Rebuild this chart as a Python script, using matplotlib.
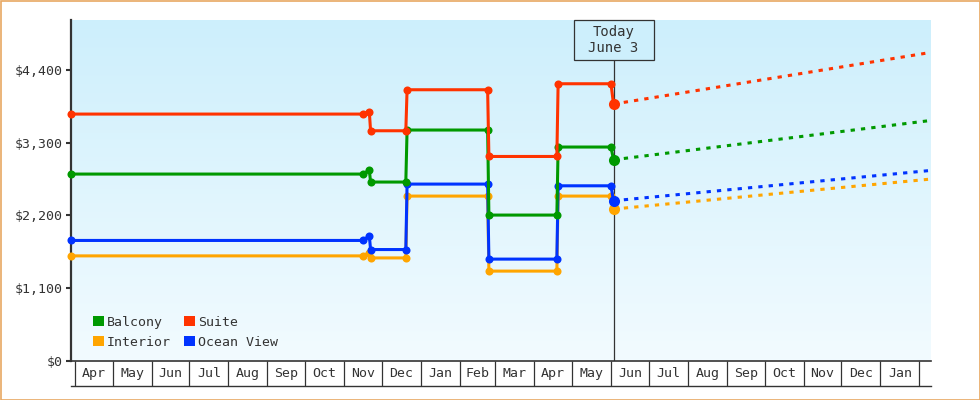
import matplotlib
matplotlib.use("Agg")
import matplotlib.pyplot as plt
import matplotlib.dates as mdates
from matplotlib.colors import LinearSegmentedColormap
from matplotlib.patches import Patch, Rectangle
from matplotlib.lines import Line2D
from matplotlib.ticker import FuncFormatter, FixedLocator
from datetime import datetime
import numpy as np

plt.rcParams["font.family"] = ["DejaVu Sans Mono"]

# price history (same dates for every cabin type)
dates = ["2022-03-29", "2022-11-16", "2022-11-21", "2022-11-22", "2022-12-20", "2022-12-21",
         "2023-02-23", "2023-02-24", "2023-04-19", "2023-04-20", "2023-06-01", "2023-06-03"]
balcony = [2828, 2828, 2890, 2707, 2707, 3496, 3496, 2206, 2206, 3238, 3238, 3045]
suite = [3738, 3738, 3775, 3485, 3485, 4107, 4107, 3095, 3095, 4198, 4198, 3890]
interior = [1587, 1587, 1637, 1556, 1556, 2494, 2494, 1356, 1356, 2494, 2494, 2297]
ocean_view = [1821, 1821, 1892, 1683, 1683, 2676, 2676, 1538, 1538, 2650, 2650, 2423]

# forecast from today to end of range
forecast_dates = ["2023-06-03", "2024-02-10"]
balcony_fc = [3045, 3641]
suite_fc = [3890, 4673]
interior_fc = [2297, 2752]
ocean_view_fc = [2423, 2883]

today = "2023-06-03"
today_label = "Today\nJune 3"
x_start, x_end = "2022-03-29", "2024-02-10"
month_names = ["Jan", "Feb", "Mar", "Apr", "May", "Jun", "Jul", "Aug", "Sep", "Oct", "Nov", "Dec"]
yticks = [0, 1100, 2200, 3300, 4400]

colors = {"Balcony": "#009900", "Suite": "#ff3300", "Interior": "#ffa500", "Ocean View": "#0033ff"}
dark = "#333333"


def d(s):
    return datetime.fromisoformat(s)


W, H = 980, 400
fig = plt.figure(figsize=(W / 100, H / 100), dpi=100)
fig.patch.set_facecolor("white")
left, right, top, bottom = 71, 930.7, 20, 360.5
ax = fig.add_axes([left / W, 1 - bottom / H, (right - left) / W, (bottom - top) / H])
ax.set_facecolor("none")

# gradient background
cmap = LinearSegmentedColormap.from_list("bg", ["#cdeffc", "#f2fbff"])
ax.imshow(np.linspace(0, 1, 256).reshape(-1, 1), cmap=cmap, extent=[0, 1, 0, 1],
          transform=ax.transAxes, aspect="auto", zorder=0)

xd = [d(s) for s in dates]
xf = [d(s) for s in forecast_dates]
series = [("Interior", interior, interior_fc), ("Ocean View", ocean_view, ocean_view_fc),
          ("Balcony", balcony, balcony_fc), ("Suite", suite, suite_fc)]
for i, (name, vals, fc) in enumerate(series):
    c = colors[name]
    z = 3 + i
    ax.plot(xd, vals, color=c, lw=2.2, marker="o", ms=5.8, mec=c, mew=0, zorder=z, clip_on=False)
    ax.plot(xf, fc, color=c, lw=2.2, linestyle=(0, (1.4, 2.0)), dash_capstyle="butt", zorder=z,
            clip_on=False)
    ax.plot([xd[-1]], [vals[-1]], marker="o", ms=8, color=c, mew=0, zorder=z + 0.5, clip_on=False)

ax.set_xlim(d(x_start), d(x_end))
ax.set_ylim(0, 5165)

# y axis
ax.set_yticks(yticks)
ax.yaxis.set_major_formatter(FuncFormatter(lambda v, p: f"${v:,.0f}"))
ax.tick_params(axis="y", length=3.6, width=1.5, color=dark, pad=2, labelsize=9.5, labelcolor=dark)

# x axis: month cells
month_starts = []
y_, m_ = 2022, 4
while (y_, m_) <= (2024, 2):
    month_starts.append(datetime(y_, m_, 1))
    m_ += 1
    if m_ > 12:
        m_, y_ = 1, y_ + 1
mids = [a + (b - a) / 2 for a, b in zip(month_starts[:-1], month_starts[1:])]
ax.set_xticks(mids)
ax.set_xticklabels([month_names[m.month - 1] for m in mids])
ax.xaxis.set_minor_locator(FixedLocator(mdates.date2num(month_starts)))
ax.tick_params(axis="x", which="major", length=0, pad=4.5, labelsize=9.5, labelcolor=dark)
ax.tick_params(axis="x", which="minor", length=18, width=0.9, color=dark, direction="out")

for s in ["top", "right"]:
    ax.spines[s].set_visible(False)
ax.spines["left"].set_color(dark)
ax.spines["left"].set_linewidth(1.6)
ax.spines["bottom"].set_color(dark)
ax.spines["bottom"].set_linewidth(1.2)
ax.add_line(Line2D([0, 1], [-25 / 340.5, -25 / 340.5], transform=ax.transAxes, color=dark,
                   lw=1.0, clip_on=False))

# today marker and box
ax_w = right - left
tx = (mdates.date2num(d(today)) - mdates.date2num(d(x_start))) / (
    mdates.date2num(d(x_end)) - mdates.date2num(d(x_start)))
box_w, box_h = 80 / ax_w, 40 / (bottom - top)
ax.plot([tx, tx], [0, 1 - box_h], transform=ax.transAxes, color=dark, lw=0.9, zorder=2)
ax.add_patch(Rectangle((tx - box_w / 2, 1 - box_h), box_w, box_h, transform=ax.transAxes,
                       facecolor="#cdeffc", edgecolor=dark, lw=0.9, zorder=10, clip_on=False))
ax.text(tx, 1 - box_h / 2, today_label, transform=ax.transAxes, ha="center", va="center",
        fontsize=10, color=dark, zorder=11, linespacing=1.25)

# legend
handles = [Patch(facecolor=colors[n], edgecolor="none", label=n)
           for n in ["Balcony", "Interior", "Suite", "Ocean View"]]
leg = ax.legend(handles=handles, ncol=2, loc="lower left", bbox_to_anchor=(0.026, 0.035),
                frameon=False, fontsize=9.5, handlelength=0.8, handleheight=0.8,
                handletextpad=0.25, columnspacing=1.0, labelspacing=0.5, borderpad=0,
                borderaxespad=0)
for t in leg.get_texts():
    t.set_color(dark)

# outer border
fig.add_artist(Rectangle((0.5 / W, 0.5 / H), 1 - 1 / W, 1 - 1 / H, transform=fig.transFigure,
                         fill=False, edgecolor="#e8a862", lw=1.2))

fig.savefig("out.png", dpi=100)
